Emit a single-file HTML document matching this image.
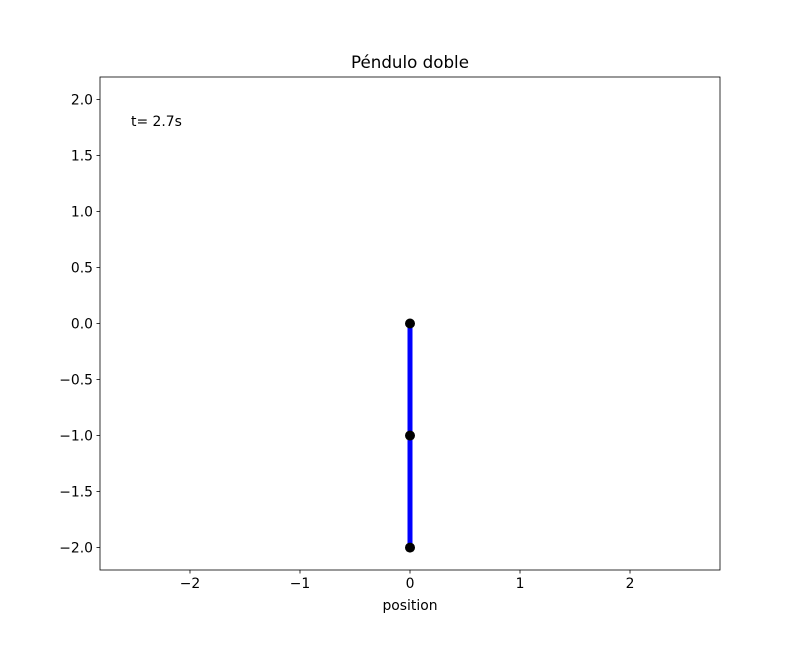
<!DOCTYPE html>
<html><head><meta charset="utf-8"><style>
body{margin:0;background:#fff}
svg text{font-family:"DejaVu Sans","Liberation Sans",sans-serif;fill:#000}
</style></head><body>
<svg width="800" height="640" xmlns="http://www.w3.org/2000/svg">
<rect width="800" height="640" fill="#fff"/>
<g id="plot"></g>
</svg>
<script>
const xTicks=[-2,-1,0,1,2];
const yTicks=[2.0,1.5,1.0,0.5,0.0,-0.5,-1.0,-1.5,-2.0];
const pendX=[0,0,0];
const pendY=[0,-1,-2];
const timeLabel="t= 2.7s";
const X0=100,X1=720,Y0=77,Y1=570,xmin=-2.818,xmax=2.818,ymin=-2.2,ymax=2.2;
const sx=v=>X0+(v-xmin)/(xmax-xmin)*(X1-X0);
const sy=v=>Y1-(v-ymin)/(ymax-ymin)*(Y1-Y0);
const g=document.getElementById('plot');const NS='http://www.w3.org/2000/svg';
function mk(t,a,p){const e=document.createElementNS(NS,t);for(const k in a)e.setAttribute(k,a[k]);(p||g).appendChild(e);return e;}
xTicks.forEach(v=>{const x=sx(v);
const l=mk('line',{x1:x,x2:x,y1:Y1,y2:Y1+3.5,stroke:'#000','stroke-width':0.8});


const t=mk('text',{x:x,y:Y1+18,'text-anchor':'middle','font-size':13.9});t.textContent=String(v).replace('-','\u2212');

});
yTicks.forEach(v=>{const y=sy(v);
const l=mk('line',{x1:X0-3.5,x2:X0,y1:y,y2:y,stroke:'#000','stroke-width':0.8});


const t=mk('text',{x:X0-7,y:y+5,'text-anchor':'end','font-size':13.9});t.textContent=v.toFixed(1).replace('-','\u2212');

});
const pts=pendX.map((x,i)=>sx(x)+','+sy(pendY[i])).join(' ');
const pl=mk('polyline',{points:pts,fill:'none',stroke:'#0000ff','stroke-width':5});


pendX.forEach((x,i)=>{const c=mk('circle',{cx:sx(x),cy:sy(pendY[i]),r:5,fill:'#000'});

});
const fr=mk('rect',{x:X0,y:Y0,width:X1-X0,height:Y1-Y0,fill:'none',stroke:'#000','stroke-width':0.8});


const tl=mk('text',{x:131,y:126,'font-size':13.9});tl.textContent=timeLabel;


const ti=mk('text',{x:410,y:68,'text-anchor':'middle','font-size':16.7});ti.textContent='Péndulo doble';


const xl=mk('text',{x:410,y:610,'text-anchor':'middle','font-size':13.9});xl.textContent='position';


</script>
</body></html>
